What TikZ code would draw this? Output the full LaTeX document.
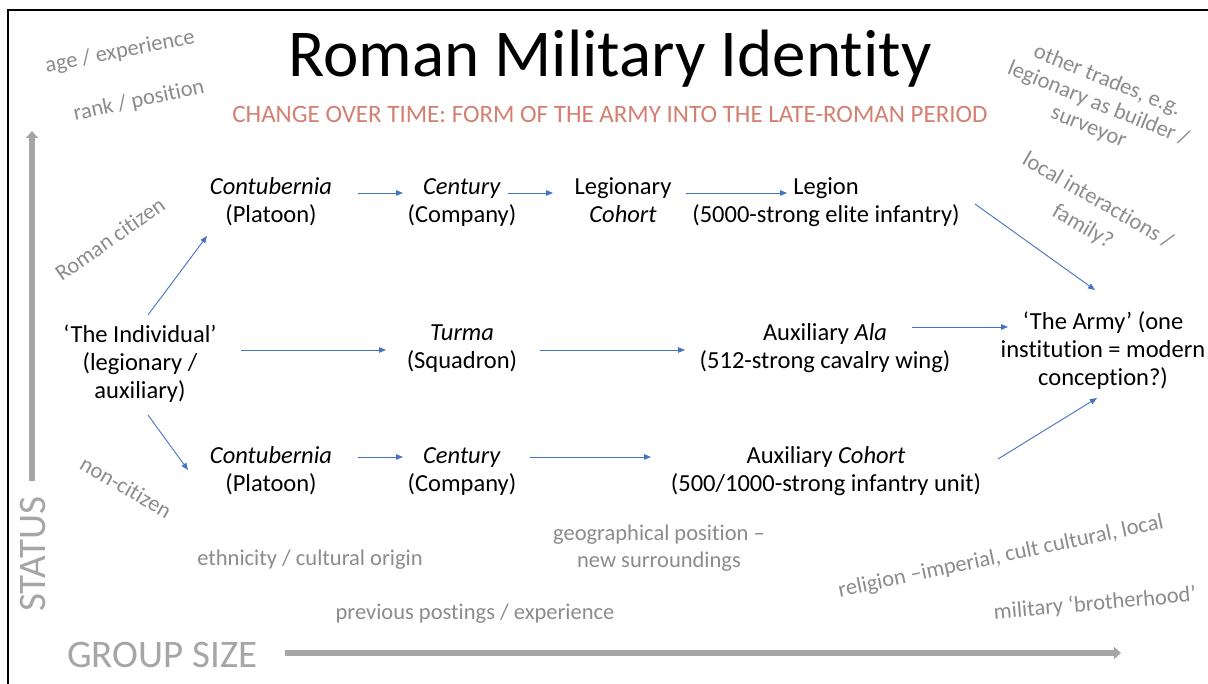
\documentclass[tikz,border=0pt]{standalone}
\usepackage{fontspec}
\setmainfont{Carlito}[Ligatures=NoCommon]
\usetikzlibrary{arrows.meta}
\definecolor{arrblue}{RGB}{68,114,196}
\definecolor{lblgray}{RGB}{140,140,140}
\definecolor{axgray}{RGB}{166,166,166}
\definecolor{subred}{RGB}{212,128,112}
\newcommand\mainfs{\fontsize{24.5}{28}\selectfont}
\newcommand\lblfs{\fontsize{22.5}{26}\selectfont}
\newcommand\axfs{\fontsize{39}{47}\selectfont}
\begin{document}
\begin{tikzpicture}[x=1pt,y=-1pt,
  box/.style={inner sep=0pt, align=center, font=\mainfs, anchor=base},
  lbl/.style={inner sep=0pt, align=center, text=lblgray, font=\lblfs},
  axlbl/.style={inner sep=0pt, text=axgray, font=\axfs},
  arr/.style={arrblue, line width=0.9pt, -{Triangle[length=7pt,width=5.5pt]}},
  axisarrow/.style={axgray, line width=5.5pt, -{Triangle[length=7pt,width=12pt]}}]
\useasboundingbox (0,0) rectangle (1208,684);
\fill[white] (0,0) rectangle (1208,684);
% frame
\draw[line width=2pt] (8,684) -- (8,10) -- (1208,10);

% title
\node[inner sep=0pt, anchor=base, font=\fontsize{67}{80}\selectfont] (title) at (610,77) {Roman Military Identity};
\node[inner sep=0pt, anchor=base, text=subred, font=\fontsize{25}{30}\selectfont] (sub) at (610,123) {CHANGE OVER TIME: FORM OF THE ARMY INTO THE LATE-ROMAN PERIOD};

% axes
\node[axlbl, anchor=base west] (gs) at (67,667) {GROUP SIZE};
\coordinate (gsend) at (1121,653);
\draw[axisarrow] ([shift={(27,-14)}]gs.base east) -- (gsend);
\node[axlbl, rotate=90, anchor=base west] (st) at (45,612) {STATUS};
\coordinate (stend) at (32,131);
\draw[axisarrow] ([shift={(-13,-16)}]st.base east) -- (stend);

% main nodes (base = baseline of last line)
\node[box] (ind) at (140,399) {‘The Individual’\\(legionary /\\auxiliary)};
\node[box] (c1) at (271,223) {\textit{Contubernia}\\(Platoon)};
\node[box] (ce1) at (462,223) {\textit{Century}\\(Company)};
\node[box] (lc) at (623,223) {Legionary\\\textit{Cohort}};
\node[box] (leg) at (826,223) {Legion\\(5000-strong elite infantry)};
\node[box] (tu) at (462,369) {\textit{Turma}\\(Squadron)};
\node[box] (ala) at (825,369) {Auxiliary \textit{Ala}\\(512-strong cavalry wing)};
\node[box] (c2) at (271,491) {\textit{Contubernia}\\(Platoon)};
\node[box] (ce2) at (462,491) {\textit{Century}\\(Company)};
\node[box] (ac) at (826,491) {Auxiliary \textit{Cohort}\\(500/1000-strong infantry unit)};
\node[box] (army) at (1103,386) {‘The Army’ (one\\institution = modern\\conception?)};

% connectors
\draw[arr] ([shift={(8,-84)}]ind.base) -- ([shift={(-64,13)}]c1.base);
\draw[arr] ([shift={(8,16)}]ind.base) -- ([shift={(-83,-21)}]c2.base);
\draw[arr] ([shift={(87,-30)}]c1.base) -- ([shift={(-59,-30)}]ce1.base);
\draw[arr] ([shift={(46,-30)}]ce1.base) -- ([shift={(-70,-30)}]lc.base);
\draw[arr] ([shift={(63,-30)}]lc.base) -- ([shift={(-39,-30)}]leg.base);
\draw[arr] ([shift={(149,-19)}]leg.base) -- ([shift={(-8,-96)}]army.base);
\draw[arr] ([shift={(101,-49)}]ind.base) -- ([shift={(-76,-19)}]tu.base);
\draw[arr] ([shift={(78,-19)}]tu.base) -- ([shift={(-140,-19)}]ala.base);
\draw[arr] ([shift={(87,-42)}]ala.base) -- ([shift={(-95,-59)}]army.base);
\draw[arr] ([shift={(87,-34)}]c2.base) -- ([shift={(-59,-34)}]ce2.base);
\draw[arr] ([shift={(68,-34)}]ce2.base) -- ([shift={(-175,-34)}]ac.base);
\draw[arr] ([shift={(172,-32)}]ac.base) -- ([shift={(-6,12)}]army.base);

% grey labels
\node[lbl, rotate=11] (age) at (120,52) {age / experience};
\node[lbl, rotate=12] (rank) at (139,101) {rank / position};
\node[lbl, rotate=35] (cit) at (110,239) {Roman citizen};
\node[lbl, rotate=-30] (noncit) at (126,487) {non-citizen};
\node[lbl, anchor=base] (eth) at (310,565) {ethnicity / cultural origin};
\node[lbl, anchor=base] (prev) at (475,619) {previous postings / experience};
\node[lbl, anchor=base, font=\fontsize{22.5}{27}\selectfont] (geo) at (659,567) {geographical position –\\new surroundings};
\node[lbl, rotate=12] (rel) at (1001,557) {religion –imperial, cult cultural, local};
\node[lbl, rotate=5] (mil) at (1095,604) {military ‘brotherhood’};
\node[lbl, rotate=-22, font=\fontsize{22.5}{25}\selectfont] (trades) at (1098,104) {other trades, e.g.\\legionary as builder /\\surveyor};
\node[lbl, rotate=-30, font=\fontsize{22.5}{30}\selectfont] (local) at (1090,214) {local interactions /\\family?};
\end{tikzpicture}
\end{document}
